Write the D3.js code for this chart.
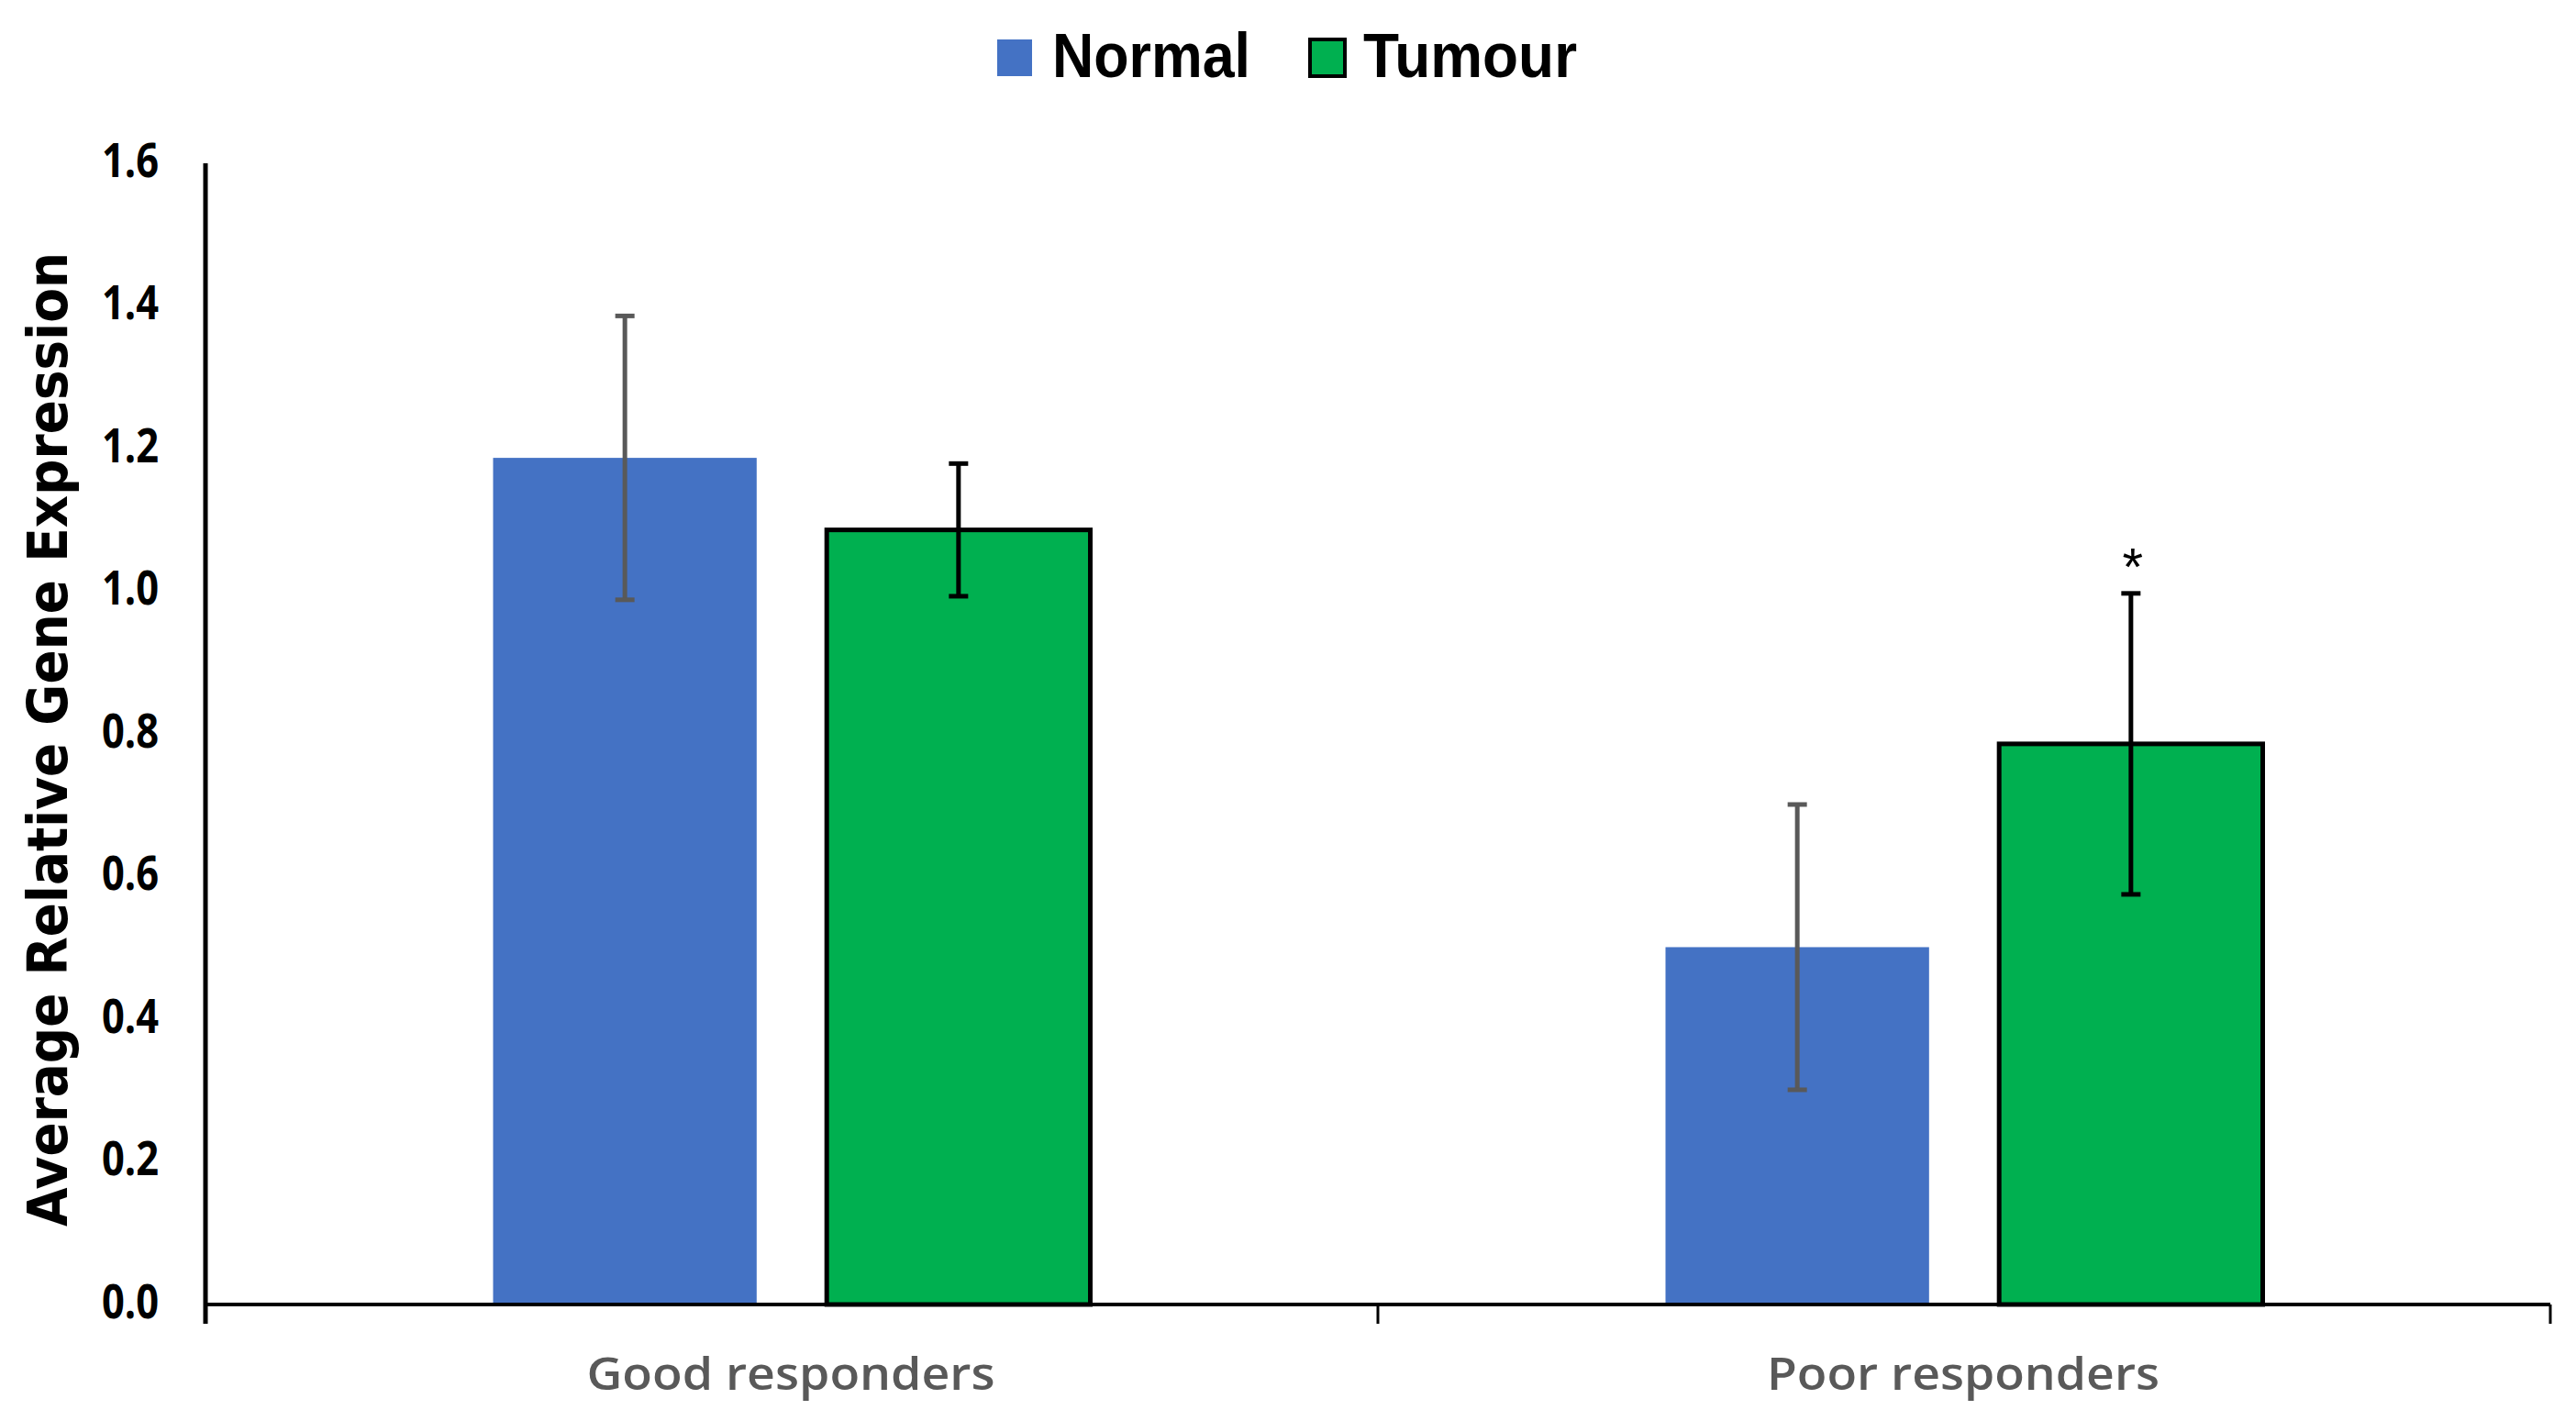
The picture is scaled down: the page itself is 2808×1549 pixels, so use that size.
<!DOCTYPE html>
<html>
<head>
<meta charset="utf-8">
<script src="https://cdn.jsdelivr.net/npm/d3@7"></script>
<style>
  html, body { margin: 0; padding: 0; background: #fff; }
  svg { display: block; }
</style>
</head>
<body>
<svg id="chart"></svg>
<script>
// data
var groups = ["Good responders", "Poor responders"];
var series = ["Normal", "Tumour"];
var normalMean = [1.187, 0.501];
var normalErr = [0.199, 0.200];
var tumourMean = [1.086, 0.786];
var tumourErr = [0.093, 0.211];
var starred = [false, true]; // asterisk above tumour bar
var yTicks = [0.0, 0.2, 0.4, 0.6, 0.8, 1.0, 1.2, 1.4, 1.6];

var W = 2808, H = 1549;
// (not "top": that name is taken by window.top)
var plotLeft = 224, plotRight = 2780, plotTop = 178, plotBottom = 1422;

var colors = { Normal: "#4472C4", Tumour: "#00B050" };
var errColors = { Normal: "#595959", Tumour: "#000000" };

var svg = d3.select("#chart").attr("width", W).attr("height", H);

// flatten into one row per bar
var rows = [];
groups.forEach(function(g, i){
  rows.push({group: g, series: "Normal", value: normalMean[i], err: normalErr[i], star: false});
  rows.push({group: g, series: "Tumour", value: tumourMean[i], err: tumourErr[i], star: starred[i]});
});

//SCALES
var x0 = d3.scaleBand().domain(groups).range([plotLeft, plotRight]).padding(0);
var groupW = 651;
var x1 = d3.scaleBand().domain(series).range([0, groupW]).paddingInner(0.21).paddingOuter(0);
var groupOffset = (x0.bandwidth() - groupW) / 2;
var y = d3.scaleLinear().domain([0, 1.6]).range([plotBottom, plotTop]);

var barX = d => x0(d.group) + groupOffset + x1(d.series);

//BARS
svg.append("g").selectAll("rect").data(rows).join("rect")
  .attr("x", barX)
  .attr("y", d => y(d.value))
  .attr("width", x1.bandwidth())
  .attr("height", d => y(0) - y(d.value))
  .style("fill", d => colors[d.series])
  .style("stroke", d => d.series === "Tumour" ? "#000" : "none")
  .style("stroke-width", 5);

//ERROR BARS
var capW = 21;
var eb = svg.append("g").selectAll("g").data(rows).join("g")
  .attr("transform", d => "translate(" + (barX(d) + x1.bandwidth() / 2) + ",0)")
  .style("stroke", d => errColors[d.series])
  .style("stroke-width", 5);
eb.append("line")
  .attr("y1", d => y(d.value + d.err))
  .attr("y2", d => y(d.value - d.err));
eb.append("line")
  .attr("x1", -capW / 2).attr("x2", capW / 2)
  .attr("y1", d => y(d.value + d.err)).attr("y2", d => y(d.value + d.err));
eb.append("line")
  .attr("x1", -capW / 2).attr("x2", capW / 2)
  .attr("y1", d => y(d.value - d.err)).attr("y2", d => y(d.value - d.err));

svg.append("g").selectAll("text").data(rows.filter(d => d.star)).join("text")
  .attr("x", d => barX(d) + x1.bandwidth() / 2 + 2)
  .attr("y", d => y(d.value + d.err) - 9)
  .attr("text-anchor", "middle")
  .style("font-family", "'Liberation Sans', Arial, sans-serif")
  .style("font-size", "58px")
  .style("fill", "#000")
  .text("*");

//Y AXIS
var yAxis = d3.axisLeft(y).tickValues(yTicks).tickSize(0).tickPadding(51).tickFormat(d3.format(".1f"));
var yG = svg.append("g").attr("transform", "translate(" + plotLeft + ",0)").call(yAxis);
yG.select(".domain").remove();
yG.selectAll("text")
  .attr("dy", null)
  .attr("y", 14)
  .attr("textLength", 62)
  .attr("lengthAdjust", "spacingAndGlyphs")
  .style("font-family", "'Open Sans', sans-serif")
  .style("font-weight", 700)
  .style("font-size", "52px")
  .style("fill", "#000");
svg.append("line")
  .attr("x1", plotLeft).attr("x2", plotLeft)
  .attr("y1", plotTop).attr("y2", plotBottom + 21)
  .style("stroke", "#000").style("stroke-width", 5);

//X AXIS
svg.append("line")
  .attr("x1", plotLeft).attr("x2", plotRight)
  .attr("y1", y(0)).attr("y2", y(0))
  .style("stroke", "#000").style("stroke-width", 4);
var bounds = groups.map(g => x0(g) + x0.bandwidth());
svg.append("g").selectAll("line").data(bounds).join("line")
  .attr("x1", d => d).attr("x2", d => d)
  .attr("y1", y(0)).attr("y2", y(0) + 21)
  .style("stroke", "#000").style("stroke-width", 3);

var xLabelW = {"Good responders": 445, "Poor responders": 428};
svg.append("g").selectAll("text").data(groups).join("text")
  .attr("x", d => x0(d) + x0.bandwidth() / 2 - 1)
  .attr("y", 1515)
  .attr("text-anchor", "middle")
  .attr("textLength", d => xLabelW[d])
  .attr("lengthAdjust", "spacingAndGlyphs")
  .style("font-family", "'Open Sans', sans-serif")
  .style("font-weight", 600)
  .style("font-size", "48px")
  .style("fill", "#595959")
  .text(d => d);

//Y TITLE
svg.append("text")
  .attr("transform", "translate(73,806) rotate(-90)")
  .attr("text-anchor", "middle")
  .attr("textLength", 1062)
  .attr("lengthAdjust", "spacingAndGlyphs")
  .style("font-family", "'DejaVu Sans', Verdana, sans-serif")
  .style("font-weight", 700)
  .style("font-size", "60px")
  .style("fill", "#000")
  .text("Average Relative Gene Expression");

//LEGEND
var legendItems = [
  {name: "Normal", sx: 1087, tx: 1147, tw: 216},
  {name: "Tumour", sx: 1428, tx: 1486, tw: 233}
];
var lg = svg.append("g").selectAll("g").data(legendItems).join("g");
lg.append("rect")
  .attr("x", d => d.sx).attr("y", 43)
  .attr("width", 38).attr("height", 40)
  .style("fill", d => colors[d.name])
  .style("stroke", d => d.name === "Tumour" ? "#000" : "none")
  .style("stroke-width", 4);
lg.append("text")
  .attr("x", d => d.tx).attr("y", 84)
  .attr("textLength", d => d.tw)
  .attr("lengthAdjust", "spacingAndGlyphs")
  .style("font-family", "'Liberation Sans', Arial, sans-serif")
  .style("font-weight", 700)
  .style("font-size", "68px")
  .style("fill", "#000")
  .text(d => d.name);
</script>
</body>
</html>
